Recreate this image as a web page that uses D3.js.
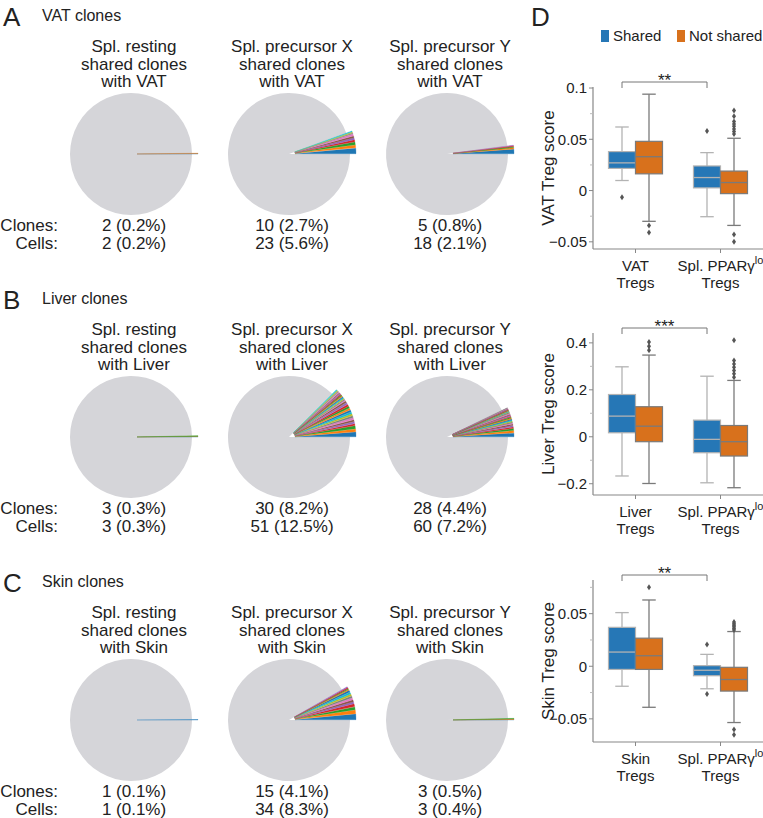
<!DOCTYPE html>
<html><head><meta charset="utf-8">
<script src="https://cdn.jsdelivr.net/npm/d3@7"></script>
<style>body{margin:0;background:#fff} text{font-family:"Liberation Sans",Arial,sans-serif;fill:#222}</style>
</head><body><svg id="c" width="763" height="818"></svg>
<script>
// ---------------- DATA ----------------
const panelLetters = ["A", "B", "C"];
const panelTitles = ["VAT clones", "Liver clones", "Skin clones"];
const tissues = ["VAT", "Liver", "Skin"];
const populations = ["Spl. resting", "Spl. precursor X", "Spl. precursor Y"];

// cells per shared clone (one wedge each), per panel, per population
const sharedCloneCellsVAT = [[1, 1], [6, 3, 3, 2, 2, 2, 2, 1, 1, 1], [10, 3, 2, 2, 1]];
const sharedCloneCellsLiver = [[1, 1, 1],
  [5, 3, 3, 2, 2, 2, 2, 2, 2, 2, 2, 2, 2, 2, 2, 2, 1, 1, 1, 1, 1, 1, 1, 1, 1, 1, 1, 1, 1, 1],
  [8, 5, 4, 3, 3, 3, 2, 2, 2, 2, 2, 2, 2, 2, 2, 2, 2, 2, 1, 1, 1, 1, 1, 1, 1, 1, 1, 1]];
const sharedCloneCellsSkin = [[1], [6, 4, 3, 3, 2, 2, 2, 2, 2, 2, 2, 1, 1, 1, 1], [1, 1, 1]];
const totalCells = [[1000, 411, 857], [1000, 408, 833], [1000, 410, 750]];
const cloneCounts = [[2, 10, 5], [3, 30, 28], [1, 15, 3]];
const clonePct = [[0.2, 2.7, 0.8], [0.3, 8.2, 4.4], [0.1, 4.1, 0.5]];
const cellCounts = [[2, 23, 18], [3, 51, 60], [1, 34, 3]];
const cellPct = [[0.2, 5.6, 2.1], [0.3, 12.5, 7.2], [0.1, 8.3, 0.4]];

// Box plots: [whiskerLow, Q1, median, Q3, whiskerHigh]; index [group][hue]
const hues = ["Shared", "Not shared"];
const groupsLine1 = ["", "Spl. PPARγ"];
const vatStats = [[[0.0098, 0.0216, 0.027, 0.038, 0.062], [-0.030, 0.0163, 0.033, 0.048, 0.094]],
                  [[-0.0255, 0.0026, 0.0127, 0.024, 0.037], [-0.034, -0.003, 0.0078, 0.019, 0.051]]];
const vatOutliers = [[[-0.0065], [-0.034, -0.041]],
                     [[0.058], [0.078, 0.0725, 0.0673, 0.065, 0.0627, 0.060, 0.0575, 0.0552, -0.0428, -0.050]]];
const liverStats = [[[-0.167, 0.017, 0.088, 0.18, 0.298], [-0.199, -0.021, 0.045, 0.128, 0.348]],
                    [[-0.196, -0.068, -0.011, 0.071, 0.258], [-0.217, -0.082, -0.021, 0.048, 0.24]]];
const liverOutliers = [[[], [0.404, 0.386, 0.369]],
                       [[], [0.411, 0.325, 0.31, 0.296, 0.282, 0.268, 0.254]]];
const skinStats = [[[-0.019, -0.003, 0.0135, 0.037, 0.051], [-0.039, -0.003, 0.010, 0.0267, 0.063]],
                   [[-0.0214, -0.009, -0.0038, 0.0006, 0.0113], [-0.0535, -0.0236, -0.0126, -0.001, 0.033]]];
const skinOutliers = [[[], [0.075]],
                      [[0.0208, -0.0264], [0.042, 0.0405, 0.039, 0.0375, 0.036, 0.0345, -0.060, -0.065]]];
const vatTicks = [-0.05, 0, 0.05, 0.1], vatTickLabels = ["−0.05", "0", "0.05", "0.1"], vatMinor = [-0.025, 0.025, 0.075];
const liverTicks = [-0.2, 0, 0.2, 0.4], liverTickLabels = ["−0.2", "0", "0.2", "0.4"], liverMinor = [-0.1, 0.1, 0.3];
const skinTicks = [-0.05, 0, 0.05], skinTickLabels = ["−0.05", "0", "0.05"], skinMinor = [-0.025, 0.025, 0.075];
const vatDomain = [-0.057, 0.101], liverDomain = [-0.248, 0.442], skinDomain = [-0.072, 0.082];
const significance = ["**", "***", "**"];

// ---------------- DRAW ----------------
const svg = d3.select("#c");
const tab10 = d3.schemeCategory10;
const pieGray = "#d5d5d9";
const sharedAll = [sharedCloneCellsVAT, sharedCloneCellsLiver, sharedCloneCellsSkin];
const panelTops = [0, 283, 566];
const pieX = [131, 289, 447];
const R = 61, EXPL = 6;

panelTops.forEach((top, p) => {
  svg.append("text").attr("x", 3).attr("y", top + 26).attr("font-size", 26).text(panelLetters[p]);
  svg.append("text").attr("x", 42).attr("y", top + 21).attr("font-size", 16).text(panelTitles[p]);
  svg.append("text").attr("x", 58).attr("y", top + 231).attr("font-size", 17).attr("text-anchor", "end").text("Clones:");
  svg.append("text").attr("x", 58).attr("y", top + 249).attr("font-size", 17).attr("text-anchor", "end").text("Cells:");
  [0, 1, 2].forEach(i => {
    const cx = pieX[i], cy = top + 154, tx = cx + 3;
    const lines = [populations[i], "shared clones", "with " + tissues[p]];
    lines.forEach((l, k) => svg.append("text").attr("x", tx).attr("y", top + 52 + k * 17.5)
      .attr("font-size", 17).attr("text-anchor", "middle").text(l));
    svg.append("text").attr("x", tx).attr("y", top + 231).attr("font-size", 17).attr("text-anchor", "middle")
      .text(`${cloneCounts[p][i]} (${clonePct[p][i]}%)`);
    svg.append("text").attr("x", tx).attr("y", top + 249).attr("font-size", 17).attr("text-anchor", "middle")
      .text(`${cellCounts[p][i]} (${cellPct[p][i]}%)`);

    const shared = sharedAll[p][i];
    const vals = shared.concat([totalCells[p][i] - d3.sum(shared)]);
    const arcs = d3.pie().sort(null).value(d => d)
      .startAngle(Math.PI / 2).endAngle(Math.PI / 2 - 2 * Math.PI)(vals);
    const arc = d3.arc().innerRadius(0).outerRadius(R);
    const g = svg.append("g").attr("transform", `translate(${cx},${cy})`);
    const last = arcs.length - 1;
    g.append("path").attr("d", arc(arcs[last])).attr("fill", pieGray);
    arcs.slice(0, last).forEach((a, k) => {
      const mid = (a.startAngle + a.endAngle) / 2;
      const col = tab10[k % 10];
      g.append("path").attr("d", arc(a))
        .attr("transform", `translate(${Math.sin(mid) * EXPL},${-Math.cos(mid) * EXPL})`)
        .attr("fill", col).attr("stroke", col).attr("stroke-width", 0.3);
    });
  });
});

// Panel D
svg.append("text").attr("x", 531).attr("y", 26).attr("font-size", 26).text("D");
const hueColors = ["#2677b6", "#d8711c"];
const lineColors = ["#b3b3b3", "#7a7a7a"];
const legendX = [601, 677];
hues.forEach((h, k) => {
  svg.append("rect").attr("x", legendX[k]).attr("y", 30).attr("width", 8).attr("height", 12).attr("fill", hueColors[k]);
  svg.append("text").attr("x", legendX[k] + 12).attr("y", 41).attr("font-size", 15).text(h);
});

const dPlots = [
  {t: "VAT", stats: vatStats, out: vatOutliers, dom: vatDomain, ticks: vatTicks, labels: vatTickLabels, minor: vatMinor, top: 87, bottom: 249},
  {t: "Liver", stats: liverStats, out: liverOutliers, dom: liverDomain, ticks: liverTicks, labels: liverTickLabels, minor: liverMinor, top: 333, bottom: 495},
  {t: "Skin", stats: skinStats, out: skinOutliers, dom: skinDomain, ticks: skinTicks, labels: skinTickLabels, minor: skinMinor, top: 580, bottom: 742}
];
const axX = 593, axR = 763;
const xBand = d3.scaleBand().domain([0, 1]).range([axX, axR]);
const hueBand = d3.scaleBand().domain([0, 1]).range([-27, 27]);
const axisCol = "#888";

dPlots.forEach((pl, pi) => {
  const y = d3.scaleLinear().domain(pl.dom).range([pl.bottom, pl.top]);
  const g = svg.append("g");
  g.append("line").attr("x1", axX).attr("x2", axX).attr("y1", pl.top).attr("y2", pl.bottom).attr("stroke", axisCol).attr("stroke-width", 1.2);
  g.append("line").attr("x1", axX).attr("x2", axR).attr("y1", pl.bottom).attr("y2", pl.bottom).attr("stroke", axisCol).attr("stroke-width", 1.2);
  pl.ticks.forEach((t, k) => {
    g.append("line").attr("x1", axX - 4).attr("x2", axX).attr("y1", y(t)).attr("y2", y(t)).attr("stroke", axisCol);
    g.append("text").attr("x", axX - 6).attr("y", y(t)).attr("dy", "0.36em").attr("text-anchor", "end")
      .attr("font-size", 15).text(pl.labels[k]);
  });
  pl.minor.forEach(t => g.append("line").attr("x1", axX - 3).attr("x2", axX).attr("y1", y(t)).attr("y2", y(t)).attr("stroke", "#bbb"));
  [0, 1].forEach(gi => {
    const c = xBand(gi) + xBand.bandwidth() / 2;
    g.append("line").attr("x1", c).attr("x2", c).attr("y1", pl.bottom).attr("y2", pl.bottom + 4).attr("stroke", axisCol);
    const t1 = g.append("text").attr("x", c).attr("y", pl.bottom + 22).attr("font-size", 15).attr("text-anchor", "middle");
    if (gi === 0) t1.text(pl.t);
    else { t1.text(groupsLine1[1]); t1.append("tspan").attr("font-size", 11).attr("dy", -7).text("lo"); }
    g.append("text").attr("x", c).attr("y", pl.bottom + 39).attr("font-size", 15).attr("text-anchor", "middle").text("Tregs");
    [0, 1].forEach(hi => {
      const s = pl.stats[gi][hi];
      const x0 = c + hueBand(hi), w = hueBand.bandwidth(), xm = x0 + w / 2;
      const lc = lineColors[hi];
      g.append("line").attr("x1", xm).attr("x2", xm).attr("y1", y(s[0])).attr("y2", y(s[1])).attr("stroke", lc).attr("stroke-width", 1.3);
      g.append("line").attr("x1", xm).attr("x2", xm).attr("y1", y(s[3])).attr("y2", y(s[4])).attr("stroke", lc).attr("stroke-width", 1.3);
      [s[0], s[4]].forEach(v => g.append("line").attr("x1", x0 + w * 0.25).attr("x2", x0 + w * 0.75)
        .attr("y1", y(v)).attr("y2", y(v)).attr("stroke", lc).attr("stroke-width", 1.3));
      g.append("rect").attr("x", x0).attr("y", y(s[3])).attr("width", w).attr("height", y(s[1]) - y(s[3]))
        .attr("fill", hueColors[hi]).attr("stroke", lc).attr("stroke-width", 1.2);
      g.append("line").attr("x1", x0).attr("x2", x0 + w).attr("y1", y(s[2])).attr("y2", y(s[2])).attr("stroke", lc).attr("stroke-width", 1.3);
      pl.out[gi][hi].forEach(v => g.append("path")
        .attr("d", `M${xm},${y(v) - 3}L${xm + 2},${y(v)}L${xm},${y(v) + 3}L${xm - 2},${y(v)}Z`).attr("fill", "#555"));
    });
  });
  const bx1 = xBand(0) + xBand.bandwidth() / 2 + hueBand(0) + hueBand.bandwidth() / 2;
  const bx2 = xBand(1) + xBand.bandwidth() / 2 + hueBand(0) + hueBand.bandwidth() / 2;
  const by = pl.top - 5;
  g.append("path").attr("d", `M${bx1},${by + 6}V${by}H${bx2}V${by + 6}`).attr("fill", "none").attr("stroke", "#777").attr("stroke-width", 1);
  g.append("text").attr("x", (bx1 + bx2) / 2).attr("y", by + 4).attr("font-size", 17).attr("text-anchor", "middle").text(significance[pi]);
  g.append("text").attr("transform", `translate(554,${(pl.top + pl.bottom) / 2}) rotate(-90)`)
    .attr("font-size", 17).attr("text-anchor", "middle").text(pl.t + " Treg score");
});
</script></body></html>
